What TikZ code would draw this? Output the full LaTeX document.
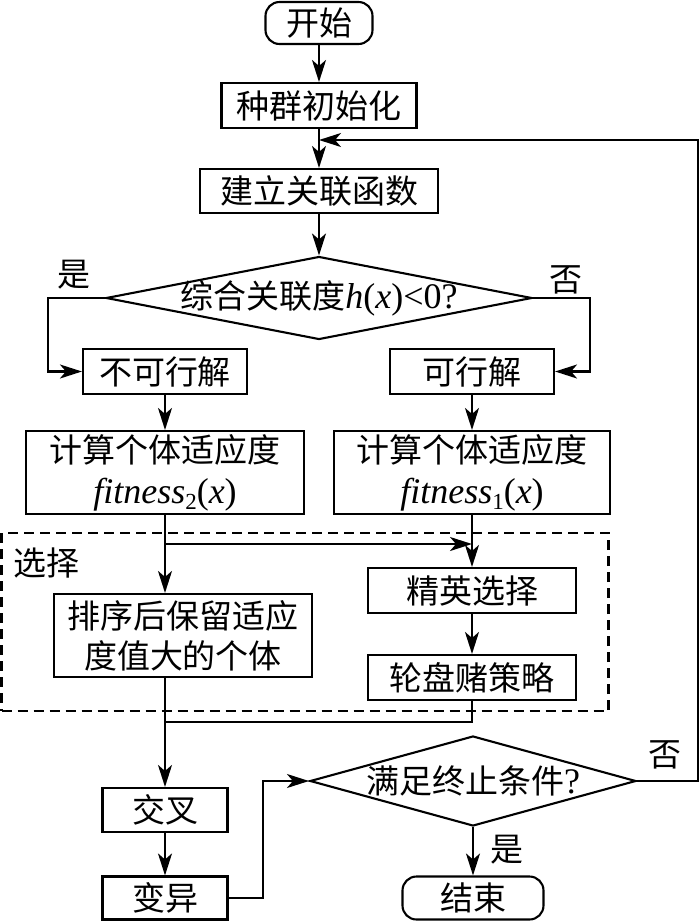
\documentclass[tikz,border=0pt]{standalone}
\usepackage{fontspec}
\setmainfont{Noto Sans CJK SC}
\newfontfamily\lat{Liberation Serif}
\newcommand\latit[1]{{\lat\fontsize{36}{40}\selectfont\itshape #1}}
\newcommand\latrm[1]{{\lat\fontsize{36}{40}\selectfont #1}}
\newcommand\subsc[1]{\raisebox{-6pt}{\lat\fontsize{23}{23}\selectfont #1}}
\usetikzlibrary{shapes.geometric,arrows.meta}
\begin{document}
\begin{tikzpicture}[x=1pt,y=-1pt, line width=2.1pt,
  every node/.style={font=\fontsize{33}{40}\selectfont, inner sep=0pt, align=center},
  box/.style={draw, rectangle},
  term/.style={draw, rectangle, rounded corners=14pt},
  dec/.style={draw, diamond},
  arr/.style={-{Stealth[length=22pt,width=14pt,inset=6pt]}},
  lbl/.style={font=\fontsize{33}{40}\selectfont}
  ]
\useasboundingbox (0,0) rectangle (700,922);
% nodes
\node[term, minimum width=107pt, minimum height=42pt] (start) at (319,23) {开始};
\node[box, minimum width=195pt, minimum height=45pt] (init) at (319,105.5) {种群初始化};
\node[box, minimum width=238pt, minimum height=44pt] (func) at (319,191) {建立关联函数};
\node[dec, minimum width=426pt, minimum height=83pt] (d1) at (319,298) {};
\node (d1t) at (d1.center) {综合关联度\latit{h}\latrm{(}\latit{x}\latrm{)<0?}};
\node[box, minimum width=164pt, minimum height=45pt] (inf) at (165,371.5) {不可行解};
\node[box, minimum width=164pt, minimum height=45pt] (fea) at (472,371.5) {可行解};
\node[box, minimum width=278pt, minimum height=83pt] (fit2) at (165,472.5) {计算个体适应度\\[1pt]\latit{fitness}\subsc{2}\latrm{(}\latit{x}\latrm{)}};
\node[box, minimum width=276pt, minimum height=83pt] (fit1) at (472,472.5) {计算个体适应度\\[1pt]\latit{fitness}\subsc{1}\latrm{(}\latit{x}\latrm{)}};
\node[draw, dash pattern=on 10pt off 6pt, minimum width=607pt, minimum height=178pt] (sel) at (305,622) {};
\node (selt) at (46,563) {选择};
\node[box, minimum width=258pt, minimum height=83pt] (sort) at (183,635.5) {排序后保留适应\\度值大的个体};
\node[box, minimum width=208pt, minimum height=45pt] (elite) at (472,590.5) {精英选择};
\node[box, minimum width=208pt, minimum height=45pt] (roul) at (472,677.5) {轮盘赌策略};
\node[box, minimum width=125pt, minimum height=44pt] (cross) at (165,810) {交叉};
\node[box, minimum width=125pt, minimum height=43pt] (mut) at (165,898) {变异};
\node[dec, minimum width=326pt, minimum height=90pt] (d2) at (473,781) {};
\node (d2t) at (d2.center) {满足终止条件\latrm{?}};
\node[term, minimum width=141pt, minimum height=43pt] (end) at (473,898) {结束};
% labels
\node[lbl] (yes1) at (74,275) {是};
\node[lbl] (no1) at (566,280) {否};
\node[lbl] (no2) at (665,755) {否};
\node[lbl] (yes2) at (507,850) {是};
% connectors
\coordinate (fb) at (319,140);
\coordinate (br) at (165,544);
\coordinate (jn) at (165,722);
\draw[arr] (start) -- (init);
\draw[arr] (init) -- (func);
\draw[arr] (func) -- (d1.north);
\draw[arr] (d1.west) -- ++(-57,0) |- (inf.west);
\draw[arr] (d1.east) -- ++(57,0) |- (fea.east);
\draw[arr] (inf) -- (fit2);
\draw[arr] (fea) -- (fit1);
\draw[arr] (fit2.south) -- (fit2.south |- sort.north);
\draw[arr] (br) -- (br -| fit1.south);
\draw[arr] (fit1.south) -- (elite.north);
\draw[arr] (elite) -- (roul);
\draw (roul.south) |- (jn);
\draw[arr] (sort.south -| fit2.south) -- (cross.north);
\draw[arr] (cross) -- (mut);
\draw[arr] (mut.east) -- ++(34,0) |- (d2.west);
\draw[arr] (d2.south) -- (end.north);
\draw[arr] (d2.east) -- ++(61,0) |- (fb);
\end{tikzpicture}
\end{document}
